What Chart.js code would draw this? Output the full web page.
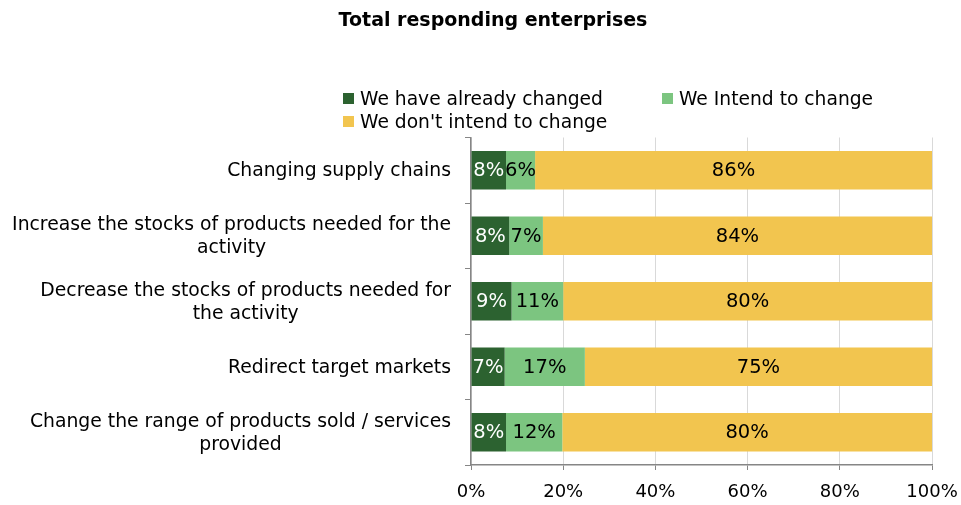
<!DOCTYPE html>
<html>
<head>
<meta charset="utf-8">
<script src="https://cdn.jsdelivr.net/npm/chart.js@4/dist/chart.umd.min.js"></script>
<style>
  body { margin: 0; background: #fff; }
  #wrap { position: relative; width: 961px; height: 505px; }
  #legend {
    position: absolute; left: 343px; top: 87px; width: 600px;
    display: flex; flex-wrap: wrap; font: 18.7px 'DejaVu Sans', sans-serif;
    color: #000; line-height: 23px;
  }
  #legend .item { display: flex; align-items: center; margin-right: 59px; white-space: nowrap; }
  #legend .box { width: 11px; height: 11px; margin-right: 6px; }
</style>
</head>
<body>
<div id="wrap">
  <canvas id="chart" width="961" height="505"></canvas>
  <div id="legend"></div>
</div>
<script>
const FONT = "'DejaVu Sans', sans-serif";

const title = 'Total responding enterprises';
const categories = [
  ['Changing supply chains'],
  ['Increase the stocks of products needed for the', 'activity'],
  ['Decrease the stocks of products needed for', 'the activity'],
  ['Redirect target markets'],
  ['Change the range of products sold / services', 'provided']
];
const seriesNames = ['We have already changed', 'We Intend to change', "We don't intend to change"];
const alreadyChanged = [7.6, 8.3, 8.8, 7.3, 7.6];
const intendToChange = [6.3, 7.3, 11.2, 17.4, 12.2];
const dontIntend = [86.1, 84.4, 80.0, 75.3, 80.2];
const xTicks = [0, 20, 40, 60, 80, 100];

const colors = ['#2c6230', '#7cc580', '#f2c54f'];
const labelColors = ['#ffffff', '#000000', '#000000'];

// percentage text in the middle of each bar segment
const barLabels = {
  id: 'barLabels',
  afterDatasetsDraw(chart) {
    const ctx = chart.ctx;
    ctx.save();
    ctx.font = '19.5px ' + FONT;
    ctx.textAlign = 'center';
    ctx.textBaseline = 'middle';
    chart.data.datasets.forEach((ds, i) => {
      chart.getDatasetMeta(i).data.forEach((bar, j) => {
        ctx.fillStyle = labelColors[i];
        ctx.fillText(Math.round(ds.data[j]) + '%', (bar.x + bar.base) / 2, bar.y + 1);
      });
    });
    ctx.restore();
  }
};

// category labels: block right-aligned to the axis, lines centred inside the block
// plus the heading, which sits a little right of the canvas centre
const textLayer = {
  id: 'textLayer',
  afterDraw(chart) {
    const ctx = chart.ctx;
    const y = chart.scales.y;
    const right = chart.chartArea.left - 20;
    const lh = 23;
    ctx.save();
    ctx.fillStyle = '#000';
    ctx.textAlign = 'center';
    ctx.textBaseline = 'middle';
    ctx.font = 'bold 19px ' + FONT;
    ctx.fillText(title, 493, 21);
    ctx.font = '18.8px ' + FONT;
    categories.forEach((lines, i) => {
      const w = Math.max(...lines.map(l => ctx.measureText(l).width));
      const cx = right - w / 2;
      const cy = y.getPixelForValue(i) + 1;
      const top = cy - (lines.length - 1) * lh / 2;
      lines.forEach((l, k) => ctx.fillText(l, cx, top + k * lh));
    });
    ctx.restore();
  }
};

const chart = new Chart(document.getElementById('chart'), {
  type: 'bar',
  data: {
    labels: categories.map(c => c.join(' ')),
    datasets: [alreadyChanged, intendToChange, dontIntend].map((d, i) => ({
      label: seriesNames[i],
      data: d,
      backgroundColor: colors[i],
      borderWidth: 0,
      barPercentage: 0.59,
      categoryPercentage: 1
    }))
  },
  options: {
    indexAxis: 'y',
    responsive: false,
    animation: false,
    layout: { padding: { left: 0, right: 29, top: 137.5, bottom: 0 } },
    plugins: {
      legend: { display: false },
      tooltip: { enabled: false },
      title: { display: false }
    },
    scales: {
      x: {
        stacked: true,
        min: 0,
        max: 100,
        afterBuildTicks(scale) { scale.ticks = xTicks.map(v => ({ value: v })); },
        afterFit(scale) {
          scale.height = 40;
          scale.paddingLeft = 0;
          scale.paddingRight = 0;
        },
        ticks: {
          color: '#000',
          font: { family: FONT, size: 18 },
          padding: 12,
          maxRotation: 0,
          callback: v => v + '%'
        },
        grid: { color: '#d9d9d9', tickColor: '#868686', tickLength: 5 },
        border: { color: '#868686', width: 1.5 }
      },
      y: {
        stacked: true,
        afterFit(scale) { scale.width = 471; },
        ticks: { display: false },
        grid: { drawOnChartArea: false, tickColor: '#868686', tickLength: 6, offset: true },
        border: { color: '#868686', width: 1.5 }
      }
    }
  },
  plugins: [barLabels, textLayer]
});

// legend built from the datasets
const legend = document.getElementById('legend');
chart.data.datasets.forEach(ds => {
  const item = document.createElement('div');
  item.className = 'item';
  item.innerHTML = '<span class="box" style="background:' + ds.backgroundColor + '"></span>' + ds.label;
  legend.appendChild(item);
});
</script>
</body>
</html>
